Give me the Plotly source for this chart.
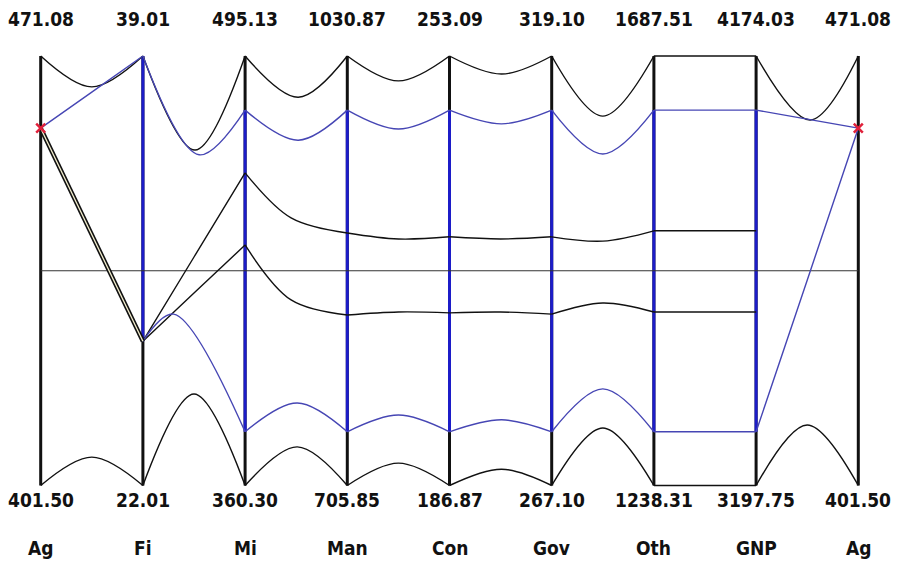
import plotly.graph_objects as go

# ---- data -------------------------------------------------------------
axis_names = ["Ag", "Fi", "Mi", "Man", "Con", "Gov", "Oth", "GNP", "Ag"]
axis_max = ["471.08", "39.01", "495.13", "1030.87", "253.09", "319.10", "1687.51", "4174.03", "471.08"]
axis_min = ["401.50", "22.01", "360.30", "705.85", "186.87", "267.10", "1238.31", "3197.75", "401.50"]

# normalised positions (0 = axis bottom, 1 = axis top)
# each line: start axis, values on consecutive axes, value at the bend between axes,
# and where that bend sits between the two axes (fraction of the gap)
top_black_start = 0
top_black_vals = [1, 1, 1, 1, 1, 1, 1, 1, 1]
top_black_mids = [0.928, 0.781, 0.904, 0.942, 0.958, 0.860, 1.0, 0.851]
top_black_at = [0.5, 0.51, 0.52, 0.5, 0.51, 0.5, 0.5, 0.53]

top_blue_start = 0
top_blue_vals = [0.832, 1.0, 0.874, 0.874, 0.874, 0.874, 0.874, 0.874, 0.832]
top_blue_mids = [0.916, 0.770, 0.804, 0.830, 0.842, 0.772, 0.874, 0.853]
top_blue_at = [0.5, 0.55, 0.52, 0.5, 0.51, 0.5, 0.5, 0.5]

bot_black_start = 0
bot_black_vals = [0, 0, 0, 0, 0, 0, 0, 0, 0]
bot_black_mids = [0.066, 0.213, 0.090, 0.052, 0.038, 0.134, 0.0, 0.141]
bot_black_at = [0.5, 0.5, 0.51, 0.5, 0.51, 0.5, 0.5, 0.5]

bot_blue_start = 1
bot_blue_vals = [0.336, 0.125, 0.125, 0.125, 0.125, 0.125, 0.125, 0.832]
bot_blue_mids = [0.399, 0.192, 0.164, 0.153, 0.225, 0.125, 0.478]
bot_blue_at = [0.30, 0.51, 0.5, 0.51, 0.5, 0.5, 0.5]

mid_up_start = 1
mid_up_vals = [0.336, 0.728, 0.588, 0.579, 0.579, 0.593, 0.593]
mid_up_mids = [0.532, 0.623, 0.574, 0.574, 0.569, 0.593]
mid_up_at = [0.5, 0.45, 0.5, 0.5, 0.5, 0.5]

mid_lo_start = 1
mid_lo_vals = [0.336, 0.560, 0.397, 0.402, 0.399, 0.404, 0.404]
mid_lo_mids = [0.448, 0.432, 0.404, 0.404, 0.425, 0.404]
mid_lo_at = [0.5, 0.45, 0.5, 0.5, 0.5, 0.5]

link_vals = [0.832, 0.336]          # Ag -> Fi double line
marked_point = 0.832                # red crosses on both Ag axes
center_level = 0.5

# blue parts of the axes: (axis index, from, to)
blue_axis = [1, 2, 3, 4, 5, 6, 7]
blue_from = [0.336, 0.125, 0.125, 0.125, 0.125, 0.125, 0.125]
blue_to = [1.0, 0.874, 0.874, 0.874, 0.874, 0.874, 0.874]

# ---- style ------------------------------------------------------------
BLACK = "#111111"
BLUE_AX = "#1c1cc8"
BLUE_LN = "#4646b4"
FONT = dict(family="Liberation Sans Narrow, DejaVu Sans Condensed, DejaVu Sans", size=19,
            color="#111111", weight="bold")

fig = go.Figure()


def add_seg(x0, x1, y0, y1, ym, at, color, width):
    fig.add_trace(go.Scatter(
        x=[x0, x0 + at * (x1 - x0), x1], y=[y0, ym, y1], mode="lines",
        line=dict(color=color, width=width, shape="spline", smoothing=1.0),
        hoverinfo="skip", showlegend=False))


def add_line(start, vals, mids, ats, color, width=1.4):
    for k in range(len(vals) - 1):
        add_seg(start + k, start + k + 1, vals[k], vals[k + 1], mids[k], ats[k], color, width)


n = len(axis_names)
# axes
for i in range(n):
    fig.add_trace(go.Scatter(x=[i, i], y=[0, 1], mode="lines",
                             line=dict(color=BLACK, width=3), hoverinfo="skip", showlegend=False))
for a, f, t in zip(blue_axis, blue_from, blue_to):
    fig.add_trace(go.Scatter(x=[a, a], y=[f, t], mode="lines",
                             line=dict(color=BLUE_AX, width=3), hoverinfo="skip", showlegend=False))

# centre line
fig.add_trace(go.Scatter(x=[0, n - 1], y=[center_level, center_level], mode="lines",
                         line=dict(color="#333333", width=1), hoverinfo="skip", showlegend=False))

add_line(top_black_start, top_black_vals, top_black_mids, top_black_at, BLACK)
add_line(bot_black_start, bot_black_vals, bot_black_mids, bot_black_at, BLACK)
add_line(mid_up_start, mid_up_vals, mid_up_mids, mid_up_at, BLACK)
add_line(mid_lo_start, mid_lo_vals, mid_lo_mids, mid_lo_at, BLACK)
add_line(top_blue_start, top_blue_vals, top_blue_mids, top_blue_at, BLUE_LN)
add_line(bot_blue_start, bot_blue_vals, bot_blue_mids, bot_blue_at, BLUE_LN)

# double link Ag -> Fi
fig.add_trace(go.Scatter(x=[0, 1], y=link_vals, mode="lines",
                         line=dict(color=BLACK, width=4.5), hoverinfo="skip", showlegend=False))
fig.add_trace(go.Scatter(x=[0, 1], y=link_vals, mode="lines",
                         line=dict(color="#f4efcf", width=1.3), hoverinfo="skip", showlegend=False))

# red crosses
fig.add_trace(go.Scatter(x=[0, n - 1], y=[marked_point, marked_point], mode="markers",
                         marker=dict(symbol="x-thin", size=9, line=dict(color="#e0203a", width=2.5)),
                         hoverinfo="skip", showlegend=False))

# labels
for i in range(n):
    fig.add_annotation(x=i, y=1.086, text=axis_max[i], showarrow=False, font=FONT,
                       xanchor="center", yanchor="middle")
    fig.add_annotation(x=i, y=-0.034, text=axis_min[i], showarrow=False, font=FONT,
                       xanchor="center", yanchor="middle")
    fig.add_annotation(x=i, y=-0.146, text=axis_names[i], showarrow=False, font=FONT,
                       xanchor="center", yanchor="middle")

# the page body adds an 8px margin; size the figure and ranges to compensate
OFF = 8
W, HT = 900 - OFF, 565 - OFF
X0, DX = 40.7 - OFF, 102.2
Y0, H = 485.5 - OFF, 429.5
fig.update_layout(
    width=W, height=HT, margin=dict(l=0, r=0, t=0, b=0),
    paper_bgcolor="white", plot_bgcolor="white",
    xaxis=dict(visible=False, range=[-X0 / DX, (W - X0) / DX], fixedrange=True),
    yaxis=dict(visible=False, range=[(Y0 - HT) / H, Y0 / H], fixedrange=True),
)
fig.write_html("out.html")
